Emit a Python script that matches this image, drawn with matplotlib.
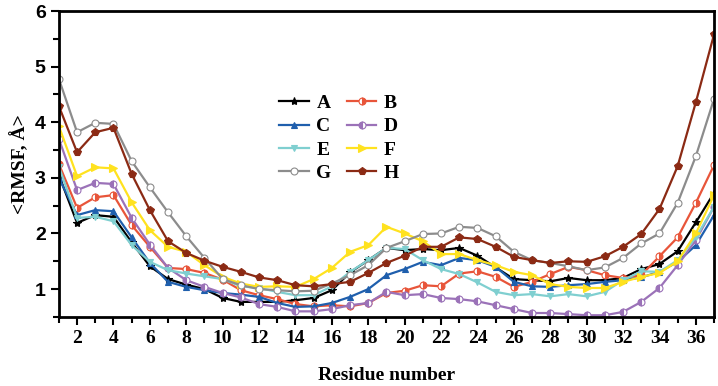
import matplotlib
matplotlib.use("Agg")
import matplotlib.pyplot as plt
from matplotlib.ticker import MultipleLocator

residues = list(range(1, 38))

A = [3.05, 2.19, 2.33, 2.30, 1.84, 1.41, 1.18, 1.08, 1.00, 0.84, 0.77, 0.77, 0.77, 0.80, 0.84,
     0.98, 1.30, 1.52, 1.74, 1.70, 1.72, 1.70, 1.74, 1.60, 1.39, 1.18, 1.16, 1.14, 1.20, 1.16,
     1.16, 1.20, 1.36, 1.45, 1.68, 2.20, 2.73]
B = [3.25, 2.46, 2.65, 2.69, 2.15, 1.76, 1.38, 1.36, 1.29, 1.17, 0.98, 0.89, 0.82, 0.73, 0.69,
     0.71, 0.69, 0.75, 0.93, 0.97, 1.07, 1.05, 1.28, 1.32, 1.22, 1.04, 1.13, 1.27, 1.40, 1.34,
     1.25, 1.20, 1.25, 1.59, 1.93, 2.55, 3.23]
C = [3.00, 2.33, 2.42, 2.40, 1.93, 1.47, 1.13, 1.04, 0.98, 0.93, 0.90, 0.86, 0.75, 0.68, 0.69,
     0.75, 0.86, 1.00, 1.25, 1.36, 1.49, 1.43, 1.56, 1.52, 1.40, 1.13, 1.05, 1.04, 1.07, 1.09,
     1.13, 1.16, 1.21, 1.31, 1.49, 1.79, 2.33]
D = [3.70, 2.78, 2.91, 2.89, 2.28, 1.80, 1.38, 1.16, 1.04, 0.93, 0.85, 0.73, 0.68, 0.60, 0.60,
     0.64, 0.71, 0.75, 0.95, 0.89, 0.91, 0.84, 0.82, 0.78, 0.71, 0.64, 0.57, 0.57, 0.55, 0.53,
     0.53, 0.59, 0.77, 1.02, 1.43, 1.88, 2.48]
E = [3.20, 2.28, 2.30, 2.22, 1.79, 1.49, 1.34, 1.28, 1.23, 1.18, 1.05, 1.02, 0.95, 0.89, 0.89,
     1.05, 1.31, 1.52, 1.74, 1.72, 1.52, 1.36, 1.27, 1.12, 0.95, 0.89, 0.91, 0.87, 0.91, 0.87,
     0.95, 1.16, 1.32, 1.31, 1.52, 1.93, 2.48]
F = [3.93, 3.03, 3.19, 3.17, 2.56, 2.06, 1.76, 1.67, 1.43, 1.22, 1.10, 1.04, 1.05, 1.04, 1.18,
     1.38, 1.67, 1.79, 2.12, 2.00, 1.86, 1.63, 1.63, 1.52, 1.43, 1.31, 1.25, 1.09, 1.04, 1.02,
     1.02, 1.13, 1.22, 1.29, 1.50, 2.00, 2.69]
G = [4.78, 3.82, 3.99, 3.97, 3.30, 2.83, 2.38, 1.95, 1.56, 1.18, 1.07, 1.00, 0.98, 0.96, 0.97,
     1.10, 1.25, 1.43, 1.74, 1.86, 1.99, 2.00, 2.12, 2.10, 1.95, 1.67, 1.52, 1.47, 1.41, 1.34,
     1.39, 1.56, 1.82, 2.00, 2.55, 3.39, 4.42]
H = [4.29, 3.46, 3.82, 3.90, 3.07, 2.42, 1.86, 1.65, 1.51, 1.40, 1.31, 1.21, 1.16, 1.07, 1.05,
     1.09, 1.13, 1.29, 1.47, 1.60, 1.76, 1.76, 1.93, 1.90, 1.76, 1.58, 1.52, 1.47, 1.50, 1.49,
     1.59, 1.76, 1.99, 2.44, 3.21, 4.36, 5.58]

labels = ["A", "B", "C", "D", "E", "F", "G", "H"]
series = [A, B, C, D, E, F, G, H]

styles = {
    "A": dict(color="black", marker="*", ms=6),
    "B": dict(color="#E8553A", marker="o", ms=5, fillstyle="right", markerfacecoloralt="white"),
    "C": dict(color="#1F5FAD", marker="^", ms=5),
    "D": dict(color="#9B72B8", marker="o", ms=5, fillstyle="left", markerfacecoloralt="white"),
    "E": dict(color="#7FCFD0", marker="v", ms=5),
    "F": dict(color="#FFE21F", marker=">", ms=6),
    "G": dict(color="#8C8C8C", marker="o", ms=5, markerfacecolor="white"),
    "H": dict(color="#8B2A14", marker="p", ms=6),
}

plt.rcParams["font.weight"] = "bold"

fig = plt.figure(figsize=(7.18, 3.86), dpi=100)
ax = fig.add_axes([0.082, 0.179, 0.9125, 0.7925])

handles = {}
for lab, ys in zip(labels, series):
    st = dict(styles[lab])
    c = st.pop("color")
    handles[lab], = ax.plot(residues, ys, color=c, lw=1.6, mec=c, mew=0.8, label=lab, **st)

ax.set_xlim(1, 37)
ax.set_ylim(0.5, 6)
ax.xaxis.set_major_locator(MultipleLocator(2))
ax.xaxis.set_minor_locator(MultipleLocator(1))
ax.yaxis.set_major_locator(MultipleLocator(1))
ax.yaxis.set_minor_locator(MultipleLocator(0.5))
ax.set_yticks([1, 2, 3, 4, 5, 6])
ax.tick_params(which="both", direction="out", width=1.5, top=False, right=False)
ax.tick_params(which="major", length=6, labelsize=14)
ax.tick_params(which="minor", length=4)
ax.tick_params(axis="x", labelfontfamily="Liberation Serif")
ax.tick_params(axis="y", labelfontfamily="Liberation Sans")
for sp in ax.spines.values():
    sp.set_linewidth(2)

ax.set_xlabel("Residue number", fontfamily="Liberation Serif", fontweight="bold", fontsize=14, labelpad=14)
ax.set_ylabel("<RMSF, Å>", fontfamily="Liberation Serif", fontweight="bold", fontsize=14, labelpad=4)

# row-wise legend order: A B / C D / E F / G H
order = ["A", "C", "E", "G", "B", "D", "F", "H"]
ax.legend([handles[k] for k in order], order, ncol=2, frameon=False, loc="upper left",
          bbox_to_anchor=(0.31, 0.785),
          prop=dict(family="Liberation Serif", weight="bold", size=14),
          handlelength=1.5, columnspacing=0.8, labelspacing=0.3, handletextpad=0.4)

fig.savefig("out.png", dpi=100)
